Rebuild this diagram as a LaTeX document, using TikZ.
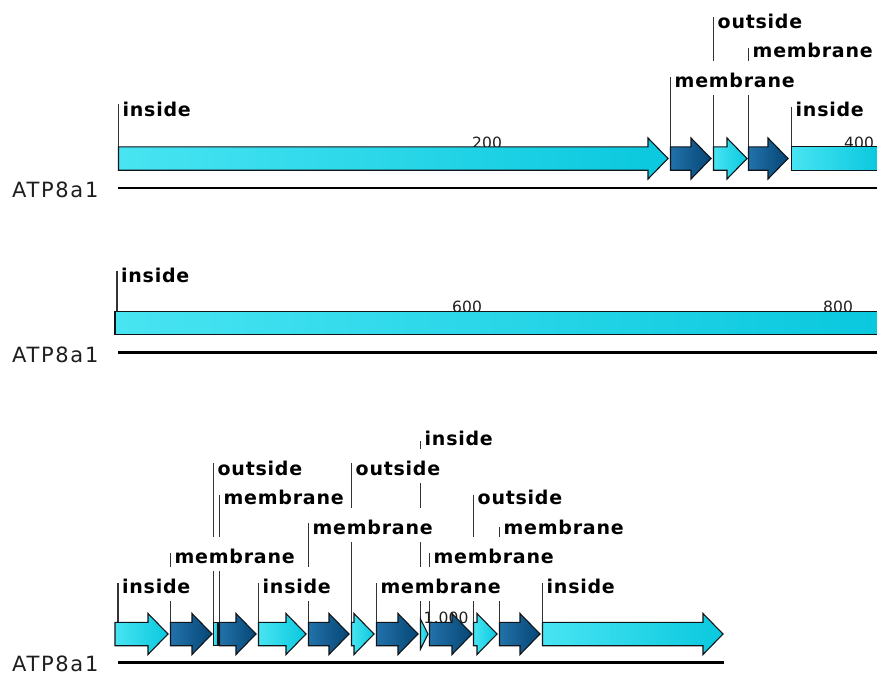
\documentclass[tikz,border=0pt]{standalone}
\usepackage{fontspec}
\newfontfamily\lblfont{DejaVu Sans Bold}[LetterSpace=4]
\newfontfamily\seqfont{DejaVu Sans}[LetterSpace=8]
\newfontfamily\numfont{DejaVu Sans}[LetterSpace=1]
\definecolor{lcL}{RGB}{72,228,242}
\definecolor{lcR}{RGB}{10,200,222}
\definecolor{dcL}{RGB}{34,114,170}
\definecolor{dcR}{RGB}{6,70,118}
\definecolor{outl}{RGB}{15,20,25}
\definecolor{txtg}{RGB}{30,30,30}
\pgfdeclarelayer{bottom}
\pgfdeclarelayer{back}
\pgfsetlayers{bottom,back,main}
\tikzset{
  lightseg/.style={draw=outl, line width=1.1pt, left color=lcL, right color=lcR},
  darkseg/.style={draw=outl, line width=1.1pt, left color=dcL, right color=dcR},
  lbl/.style={font=\fontsize{19}{22}\lblfont, fill=white, inner xsep=0pt, inner ysep=0pt, text height=26pt, text depth=7.5pt, anchor=base west, text=black},
  lblline/.style={draw=black!80, line width=1.3pt},
  axisline/.style={line width=2.8pt, black},
  seqname/.style={font=\fontsize{21}{24}\seqfont, text=txtg, anchor=base west, inner sep=0pt},
  ticknum/.style={font=\fontsize{15.5}{17}\numfont, text=txtg, anchor=base, inner sep=0pt},
}
\newcommand\segarrow[4]{%
  \path[#1] (#2,{#4-11.7}) -- ({#3-20},{#4-11.7}) -- ({#3-20},{#4-20.5}) -- (#3,#4)
    -- ({#3-20},{#4+20.5}) -- ({#3-20},{#4+11.7}) -- (#2,{#4+11.7}) -- cycle;}
\newcommand\segbox[4]{\path[#1] (#2,{#4-11.7}) rectangle (#3,{#4+11.7});}
\begin{document}
\begin{tikzpicture}[x=1pt,y=-1pt]
\begin{pgfonlayer}{bottom}
\fill[white] (0,0) rectangle (877,675);
\end{pgfonlayer}
\useasboundingbox (0,0) rectangle (877,675);

% ---------- row 1 ----------
\coordinate (top1) at (0,146.8);
\begin{pgfonlayer}{back}
\node[ticknum] (t200) at (487,148) {200};
\node[ticknum] (t400) at (859,148) {400};
\end{pgfonlayer}
\segarrow{lightseg}{118.5}{668}{158.5}
\segarrow{darkseg}{670.5}{711}{158.5}
\segarrow{lightseg}{713.5}{747}{158.5}
\segarrow{darkseg}{748.5}{788}{158.5}
\segbox{lightseg}{791.5}{879}{158.5}
\node[seqname] (s1) at (12,197.5) {ATP8a1};
\coordinate (a1s) at (118,188);
\coordinate (a1e) at (877,188);
\draw[axisline] (a1s) -- (a1e);
\foreach \x/\b/\t/\u [count=\i] in {118.5/116/inside/12, 670.5/87/membrane/10, 713.5/28/outside/11, 748.5/57.5/membrane/10, 791.5/116/inside/9}{
  \node[lbl] (r1l\i) at ({\x+4},\b) {\t};
  \begin{pgfonlayer}{back}
  \draw[lblline] ([xshift=-4pt,yshift=\u pt]r1l\i.base west) -- ([xshift=-4pt]r1l\i.base west |- top1);
  \end{pgfonlayer}
}

% ---------- row 2 ----------
\coordinate (top2) at (0,311.3);
\begin{pgfonlayer}{back}
\node[ticknum] (t600) at (467,312.5) {600};
\node[ticknum] (t800) at (838,312.5) {800};
\end{pgfonlayer}
\segbox{lightseg}{115}{879}{323}
\node[seqname] (s2) at (12,362) {ATP8a1};
\coordinate (a2s) at (118,352.5);
\coordinate (a2e) at (877,352.5);
\draw[axisline] (a2s) -- (a2e);
\node[lbl] (r2l1) at (121,282) {inside};
\begin{pgfonlayer}{back}
\draw[lblline] ([xshift=-4pt,yshift=11pt]r2l1.base west) -- ([xshift=-4pt]r2l1.base west |- top2);
\end{pgfonlayer}

% ---------- row 3 ----------
\coordinate (top3) at (0,622.3);
\begin{pgfonlayer}{back}
\node[ticknum] (t1000) at (446,623.5) {1,000};
\end{pgfonlayer}
\segarrow{lightseg}{115}{168}{634}
\segarrow{darkseg}{170.5}{212}{634}
\segbox{lightseg}{213.5}{218}{634}
\segarrow{darkseg}{219.5}{256}{634}
\segarrow{lightseg}{258.5}{306}{634}
\segarrow{darkseg}{308.5}{349}{634}
\segarrow{lightseg}{351.5}{374}{634}
\segarrow{darkseg}{376.5}{418}{634}
\path[lightseg] (420.5,619) -- (428,634) -- (420.5,649) -- cycle;
\segarrow{darkseg}{429.5}{472}{634}
\segarrow{lightseg}{473.5}{497}{634}
\segarrow{darkseg}{499.5}{540}{634}
\segarrow{lightseg}{542.5}{723}{634}
\node[seqname] (s3) at (12,671) {ATP8a1};
\coordinate (a3s) at (118,662.5);
\coordinate (a3e) at (724,662.5);
\draw[axisline] (a3s) -- (a3e);
\foreach \x/\b/\t/\u [count=\i] in {118/593/inside/10, 170.5/563/membrane/10, 213.5/475/outside/12, 219.5/504/membrane/9, 258.5/593/inside/10, 308.5/534/membrane/11, 351.5/475/outside/12, 420.5/445/inside/4, 376.5/593/membrane/10, 429.5/563/membrane/10, 473.5/504/outside/9, 499.5/534/membrane/7, 542.5/593/inside/10}{
  \node[lbl] (r3l\i) at ({\x+4},\b) {\t};
  \begin{pgfonlayer}{back}
  \draw[lblline] ([xshift=-4pt,yshift=\u pt]r3l\i.base west) -- ([xshift=-4pt]r3l\i.base west |- top3);
  \end{pgfonlayer}
}
\end{tikzpicture}
\end{document}
